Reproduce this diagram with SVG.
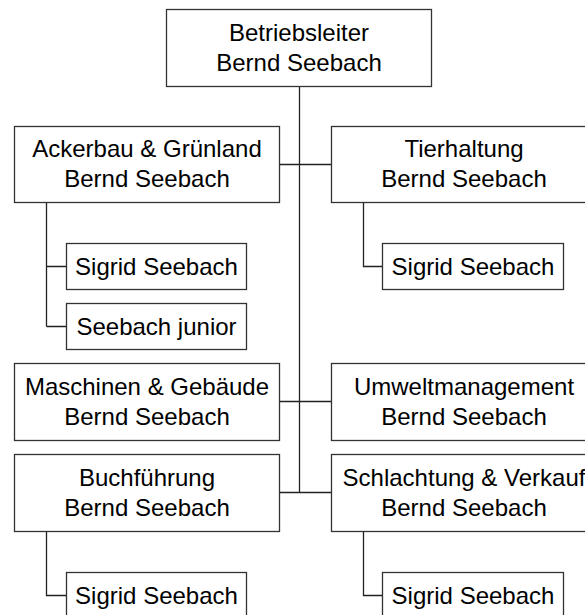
<svg xmlns="http://www.w3.org/2000/svg" width="585" height="615" viewBox="0 0 585 615">
<style>
.box{fill:#fff;stroke:#333;stroke-width:1.3}
.t{font-family:"Liberation Sans",Arial,sans-serif;font-size:24px;fill:#000;text-anchor:middle}
.ln{fill:none;stroke:#222;stroke-width:1.3}
</style>
<rect width="585" height="615" fill="#fff"/>
<g id="connectors">
<path class="ln" d="M299.5 86V492.5M279 164.5H331M279 401.5H331M279 492.5H331"/>
<path class="ln" d="M46.5 202V326.5M46.5 266.5H66M46.5 326.5H66"/>
<path class="ln" d="M363.5 202V266.5H382"/>
<path class="ln" d="M46.5 531V595.5H66"/>
<path class="ln" d="M363.5 531V595.5H382"/>
</g>
<g id="betriebsleiter"><rect class="box" x="166.5" y="9.5" width="265" height="77"/><text class="t" x="299" y="40.5">Betriebsleiter</text><text class="t" x="299" y="70.5">Bernd Seebach</text></g>
<g id="ackerbau"><rect class="box" x="14.5" y="126.5" width="265" height="76"/><text class="t" x="147" y="157">Ackerbau &amp; Grünland</text><text class="t" x="147" y="187">Bernd Seebach</text></g>
<g id="tierhaltung"><rect class="box" x="331.5" y="126.5" width="265" height="76"/><text class="t" x="464" y="157">Tierhaltung</text><text class="t" x="464" y="187">Bernd Seebach</text></g>
<g id="ackerbau-sigrid"><rect class="box" x="66.5" y="243.5" width="180" height="46"/><text class="t" x="156.5" y="275">Sigrid Seebach</text></g>
<g id="ackerbau-junior"><rect class="box" x="66.5" y="303.5" width="180" height="46"/><text class="t" x="156.5" y="335">Seebach junior</text></g>
<g id="tierhaltung-sigrid"><rect class="box" x="382.5" y="243.5" width="181" height="46"/><text class="t" x="473" y="275">Sigrid Seebach</text></g>
<g id="maschinen"><rect class="box" x="14.5" y="363.5" width="265" height="77"/><text class="t" x="147" y="395">Maschinen &amp; Gebäude</text><text class="t" x="147" y="425">Bernd Seebach</text></g>
<g id="umwelt"><rect class="box" x="331.5" y="363.5" width="265" height="77"/><text class="t" x="464" y="395">Umweltmanagement</text><text class="t" x="464" y="425">Bernd Seebach</text></g>
<g id="buchfuehrung"><rect class="box" x="14.5" y="454.5" width="265" height="77"/><text class="t" x="147" y="486">Buchführung</text><text class="t" x="147" y="516">Bernd Seebach</text></g>
<g id="schlachtung"><rect class="box" x="331.5" y="454.5" width="265" height="77"/><text class="t" x="464" y="486">Schlachtung &amp; Verkauf</text><text class="t" x="464" y="516">Bernd Seebach</text></g>
<g id="buchfuehrung-sigrid"><rect class="box" x="66.5" y="572.5" width="180" height="46"/><text class="t" x="156.5" y="604">Sigrid Seebach</text></g>
<g id="schlachtung-sigrid"><rect class="box" x="382.5" y="572.5" width="181" height="46"/><text class="t" x="473" y="604">Sigrid Seebach</text></g>
</svg>
